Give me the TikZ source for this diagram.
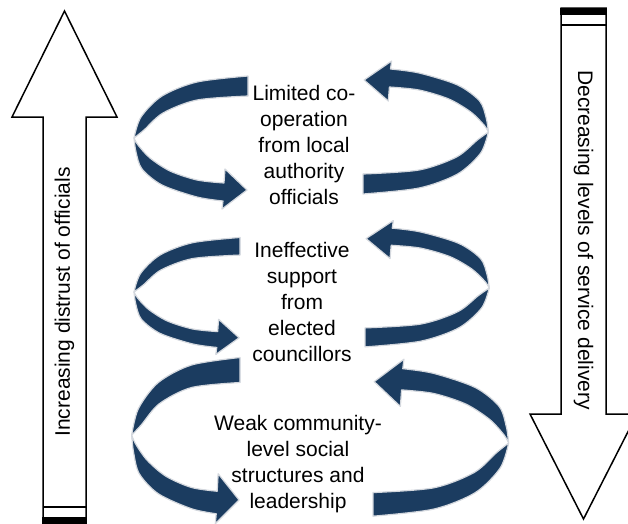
\documentclass[tikz,border=0pt]{standalone}
\usepackage{fontspec}
\setmainfont{Liberation Sans}
\usepackage{tikz}
\usetikzlibrary{positioning}
\usepackage{xcolor}
\definecolor{coilnavy}{RGB}{27, 60, 96}
\definecolor{coilrim} {RGB}{212,216,222}

\tikzset{
  coil/.pic={
    %% back band, from the open end to the pinch
    \filldraw[ribbon] plot[smooth] coordinates {(0,-62) (-51,-56) (-86,-42) (-107,-21) (-114,0)}
      -- plot[smooth] coordinates {(-114,0) (-104,-8) (-85,-25) (-51,-38) (0,-42)} -- cycle;
    %% front band with its arrow head
    \filldraw[ribbon] plot[smooth] coordinates {(-114,0) (-112,14) (-106,31) (-86,47) (-51,59) (-25,63)}
      -- (-26,71) -- (-1,52) -- (-23,31) -- (-24,45)
      -- plot[smooth] coordinates {(-24,45) (-51,42) (-78,33) (-98,20) (-110,7) (-114,0)} -- cycle;
  }
}

\begin{document}
\begin{tikzpicture}[
  x=1pt,y=-1pt,
  ribbon/.style={fill=coilnavy,draw=coilrim,line width=1.2pt,line join=round},
  blockarrow/.style={draw=black,fill=white,line width=1.5pt,line join=miter},
  lbl/.style={align=center,inner sep=0pt,font=\fontsize{21}{26}\selectfont},
  sidelbl/.style={inner sep=0pt,font=\fontsize{21}{26}\selectfont},
]
\clip (0,0) rectangle (628,523);

%% Left block arrow (up)
\draw[blockarrow] (43,525) -- (43,117) -- (12,117) -- (64.5,11) -- (117,117)
  -- (86,117) -- (86,525) -- cycle;
\draw[line width=1.5pt] (43,507) -- (86,507);
\fill (42,517) rectangle (87,525);
\node[sidelbl,rotate=90] (distrust) at (64.5,302) {Increasing distrust of officials};

%% Right block arrow (down)
\draw[blockarrow] (561,8) -- (561,414) -- (530,414) -- (583.5,519) -- (637,414)
  -- (606,414) -- (606,8) -- cycle;
\draw[line width=1.5pt] (561,25) -- (606,25);
\fill (560,7.5) rectangle (607,15);
\node[sidelbl,rotate=-90] (delivery) at (583.5,240) {Decreasing levels of service delivery};

%% Coils
\pic at (248,138) {coil};
\pic[rotate=180,xscale=1.1] at (363,132) {coil};
\pic[xscale=0.93,yscale=0.88] at (240,292) {coil};
\pic[rotate=180,xscale=1.09,yscale=0.95] at (365,288) {coil};
\pic[xscale=0.95,yscale=1.25] at (240,435) {coil};
\pic[rotate=180,xscale=1.19,yscale=1.18] at (373,443) {coil};

%% Labels
\node[lbl,anchor=north] (cooperation) at (304,85)
  {Limited co-\\operation\\from local\\authority\\officials};
\node[lbl,anchor=north] (councillors) at (302,242)
  {Ineffective\\support\\from\\elected\\councillors};
\node[lbl,anchor=north] (community) at (298,415)
  {Weak community-\\level social\\structures and\\leadership};

\end{tikzpicture}
\end{document}
